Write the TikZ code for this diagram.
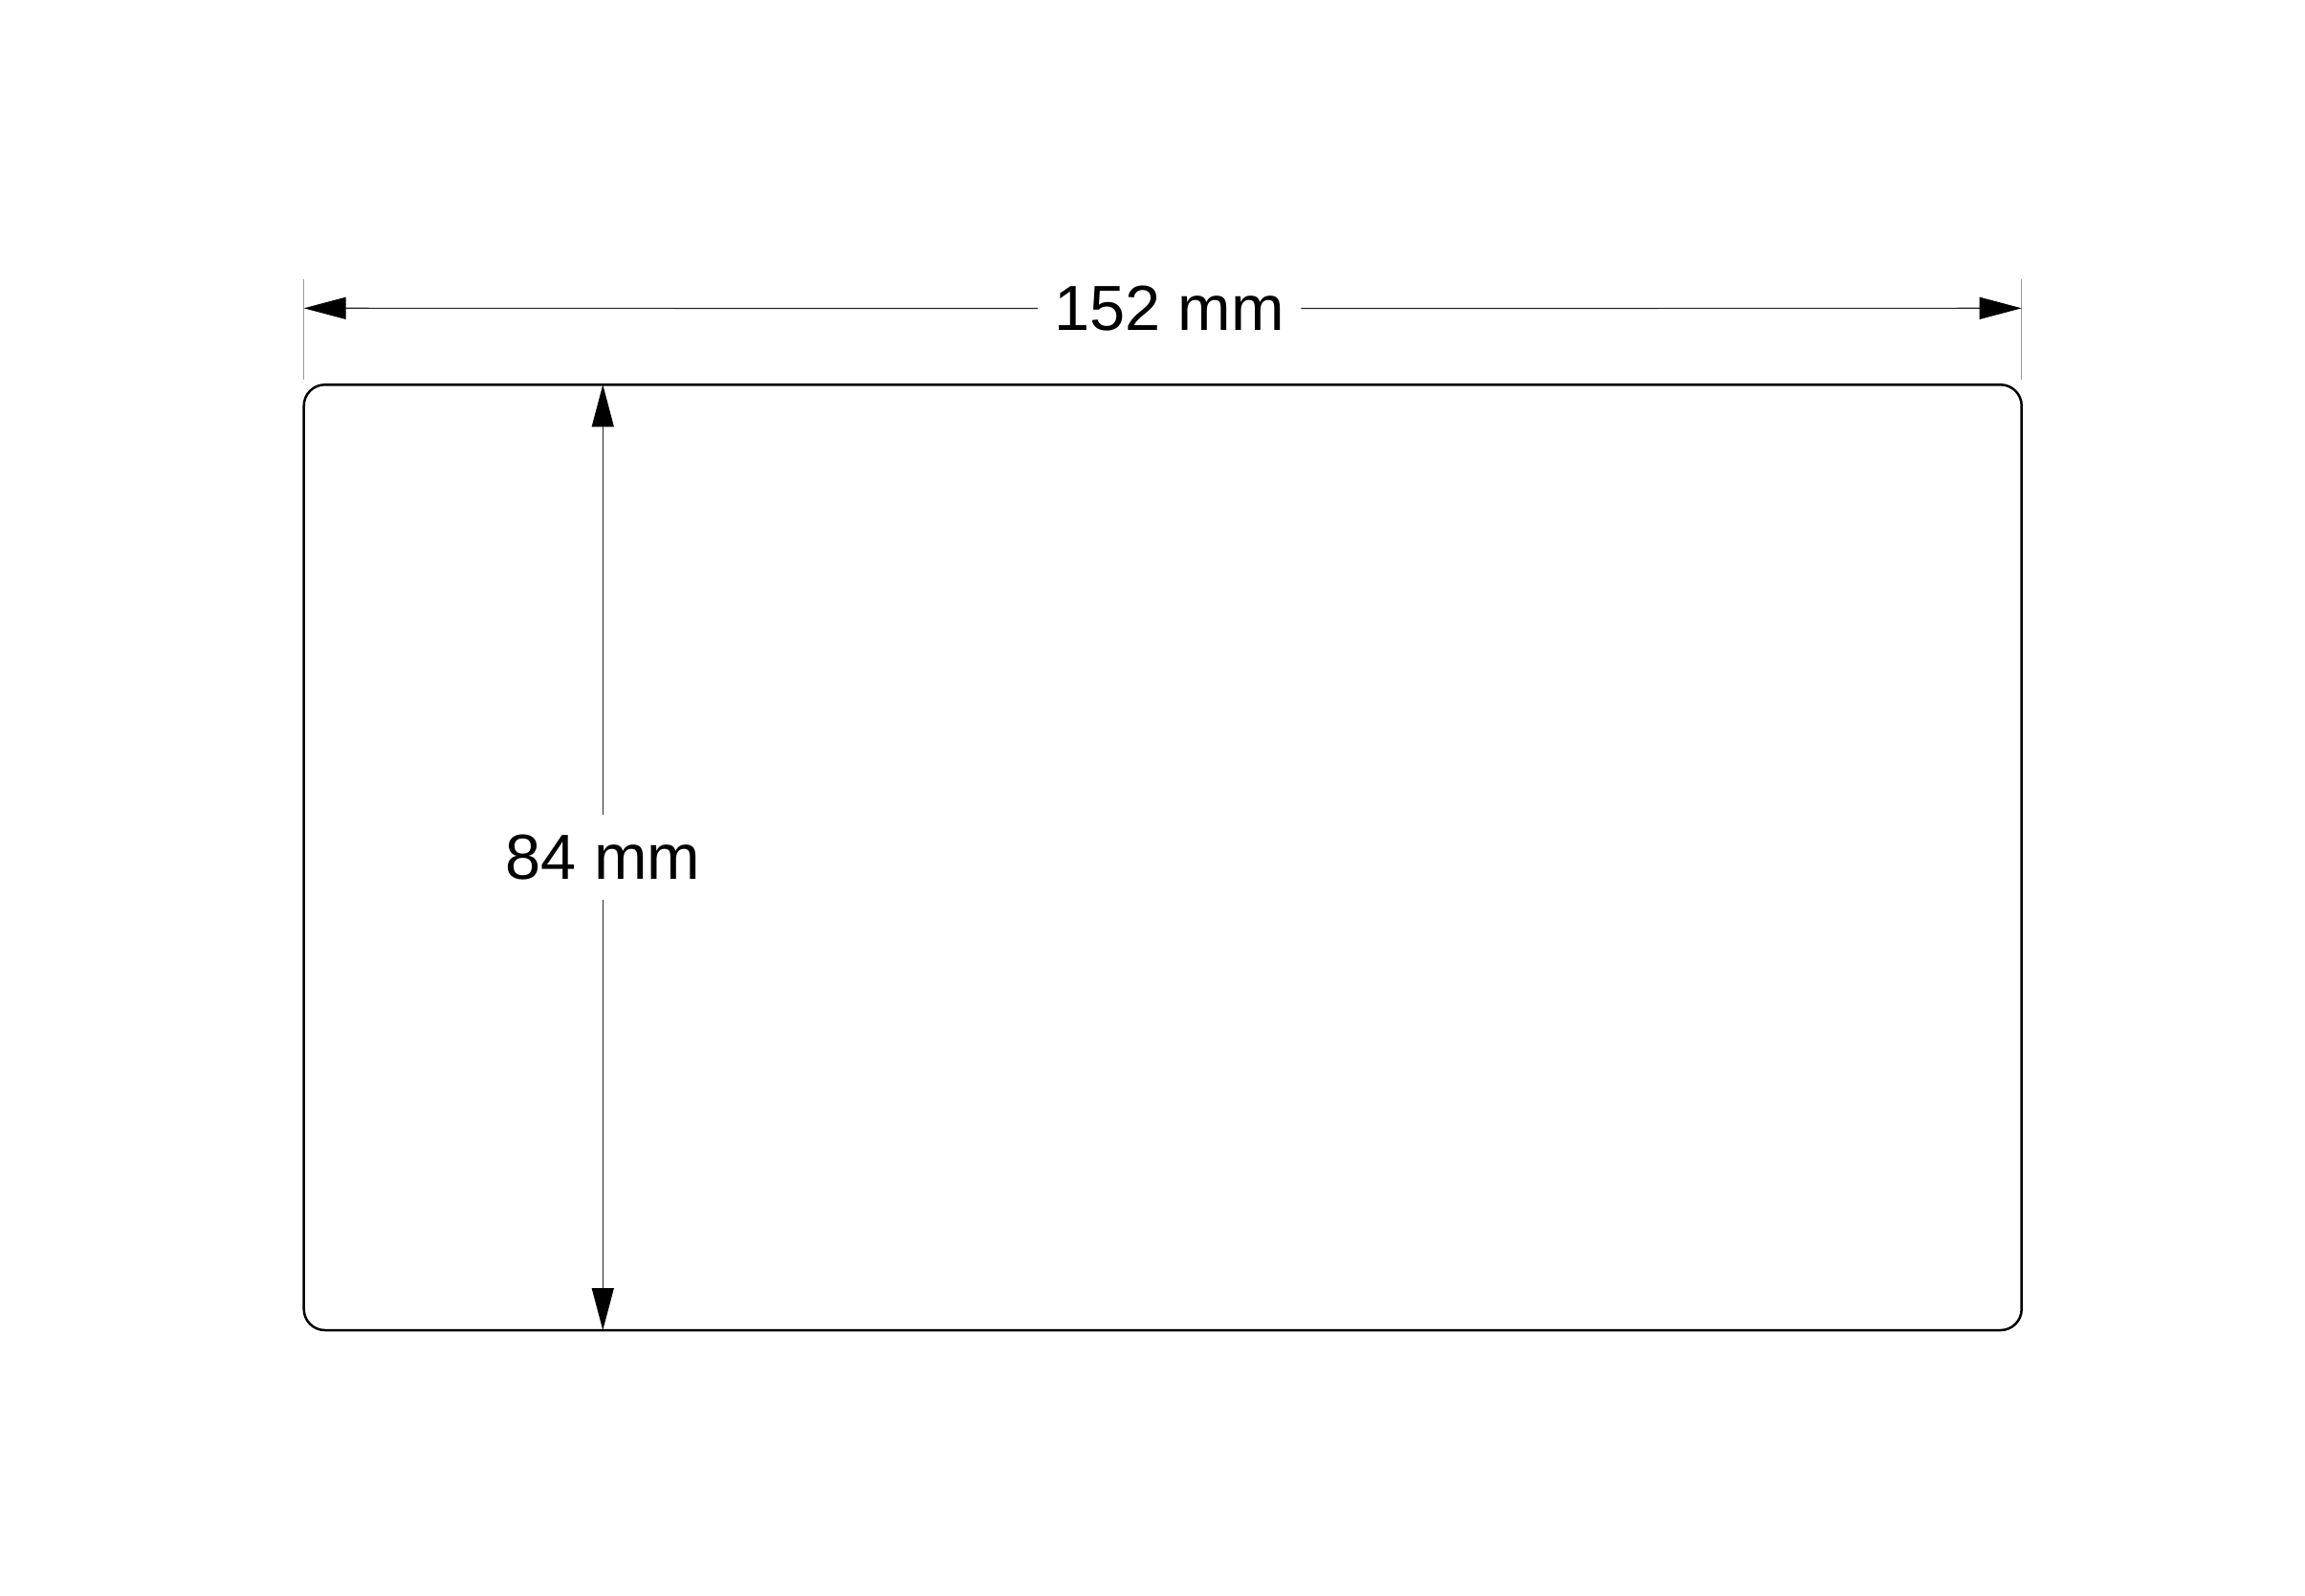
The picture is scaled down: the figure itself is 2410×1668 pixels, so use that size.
\documentclass[tikz,border=0pt]{standalone}
\usepackage{fontspec}
\setmainfont{Liberation Sans}
\usetikzlibrary{arrows.meta}
\begin{document}
\begin{tikzpicture}[x=0.3pt,y=-0.3pt,
  outline/.style={draw=black,line width=0.75pt,rounded corners=6.6pt},
  dimline/.style={draw=black!85,line width=0.35pt,-{Triangle[length=13.2pt,width=6.9pt,black]}},
  extline/.style={draw=black!40,line width=0.45pt},
  dimlabel/.style={font=\fontsize{20}{24}\selectfont,inner sep=0pt,text=black}]
\useasboundingbox (0,0) rectangle (2410,1668);
% board outline
\coordinate (tl) at (317.7,402.3);
\coordinate (br) at (2113.7,1391);
\draw[outline] (tl) rectangle (br);
% extension lines
\coordinate (e1a) at (317.7,292);
\coordinate (e1b) at (317.7,396.7);
\coordinate (e2a) at (2113.7,292);
\coordinate (e2b) at (2113.7,396.7);
\draw[extline] (e1a) -- (e1b);
\draw[extline] (e2a) -- (e2b);
% horizontal dimension
\coordinate (hl) at (317.7,322.3);
\coordinate (hr) at (2113.7,322.3);
\node[dimlabel,inner xsep=5pt] (hlabel) at (1222.5,322.5) {152 mm};
\draw[dimline] (hlabel.west) -- (hl);
\draw[dimline] (hlabel.east) -- (hr);
% vertical dimension
\coordinate (vt) at (630.3,402.3);
\coordinate (vb) at (630.3,1391);
\node[dimlabel,inner ysep=6pt] (vlabel) at (630.3,896.5) {84 mm};
\draw[dimline] (vlabel.north) -- (vt);
\draw[dimline] (vlabel.south) -- (vb);
\end{tikzpicture}
\end{document}
